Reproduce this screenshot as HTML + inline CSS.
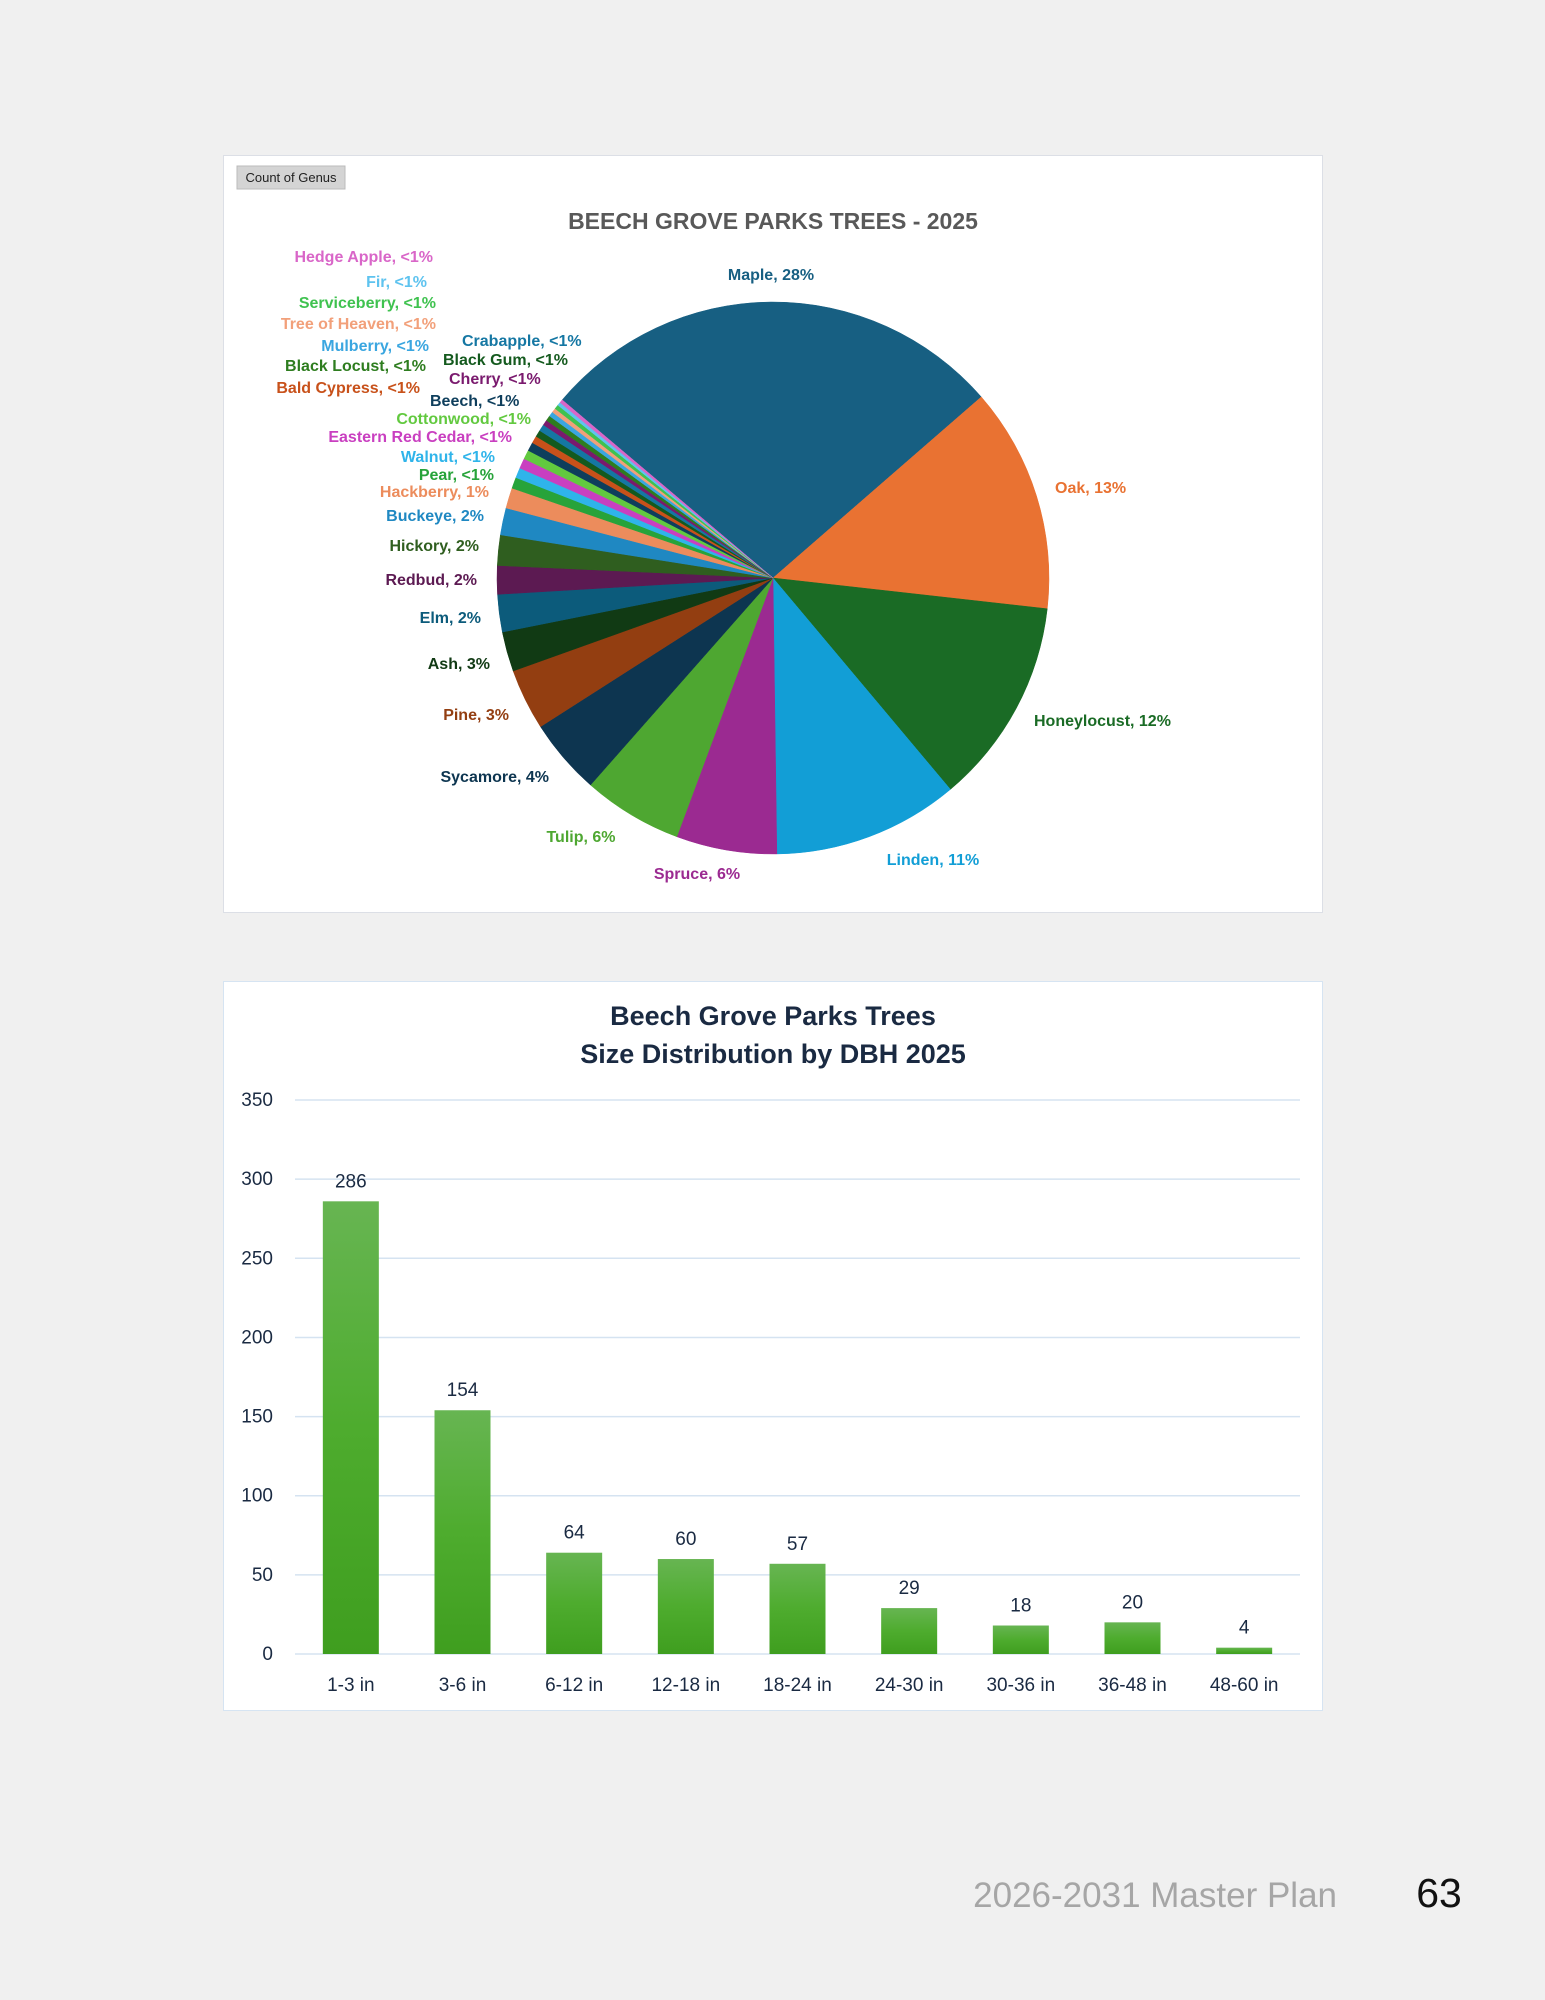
<!DOCTYPE html>
<html><head><meta charset="utf-8"><style>
html,body{margin:0;padding:0;background:#f0f0f0;width:1545px;height:2000px;overflow:hidden}
svg{display:block}
text{font-family:"Liberation Sans",sans-serif}
</style></head><body>
<svg id="s" width="1545" height="2000" viewBox="0 0 1545 2000">
<rect x="0" y="0" width="1545" height="2000" fill="#f0f0f0"/>
<rect x="223.5" y="155.5" width="1099" height="757" fill="#fff" stroke="#dcdfe6"/>
<rect x="237" y="166" width="108" height="23" fill="#d4d4d4" stroke="#bbb"/>
<text x="291" y="182" font-size="13" text-anchor="middle" fill="#222">Count of Genus</text>
<text x="773" y="229" font-size="23" font-weight="bold" text-anchor="middle" fill="#595959">BEECH GROVE PARKS TREES - 2025</text>
<g id="pie"></g>
<g font-size="16" font-weight="bold" dominant-baseline="middle">
<text x="433" y="258" text-anchor="end" fill="#d966c8">Hedge Apple,  &lt;1%</text>
<text x="427" y="283" text-anchor="end" fill="#5ec3ef">Fir,  &lt;1%</text>
<text x="436" y="304" text-anchor="end" fill="#3fc24f">Serviceberry,  &lt;1%</text>
<text x="436" y="325" text-anchor="end" fill="#f2a07a">Tree of Heaven,  &lt;1%</text>
<text x="429" y="347" text-anchor="end" fill="#3aa6e0">Mulberry,  &lt;1%</text>
<text x="426" y="367" text-anchor="end" fill="#2e7d1f">Black Locust,  &lt;1%</text>
<text x="420" y="389" text-anchor="end" fill="#c8511a">Bald Cypress,  &lt;1%</text>
<text x="462" y="342" text-anchor="start" fill="#1577a3">Crabapple,  &lt;1%</text>
<text x="443" y="361" text-anchor="start" fill="#145a1e">Black Gum,  &lt;1%</text>
<text x="449" y="380" text-anchor="start" fill="#7a1a6e">Cherry,  &lt;1%</text>
<text x="430" y="402" text-anchor="start" fill="#0e3e5c">Beech,  &lt;1%</text>
<text x="531" y="420" text-anchor="end" fill="#62c93f">Cottonwood,  &lt;1%</text>
<text x="512" y="438" text-anchor="end" fill="#c93fc0">Eastern Red Cedar,  &lt;1%</text>
<text x="495" y="458" text-anchor="end" fill="#2fb4ea">Walnut,  &lt;1%</text>
<text x="494" y="476" text-anchor="end" fill="#27a33a">Pear,  &lt;1%</text>
<text x="489" y="493" text-anchor="end" fill="#ec8c5c">Hackberry, 1%</text>
<text x="484" y="517" text-anchor="end" fill="#1f88c2">Buckeye, 2%</text>
<text x="479" y="547" text-anchor="end" fill="#2f5e1f">Hickory, 2%</text>
<text x="477" y="581" text-anchor="end" fill="#5c1a52">Redbud, 2%</text>
<text x="481" y="619" text-anchor="end" fill="#0c5b7b">Elm, 2%</text>
<text x="490" y="665" text-anchor="end" fill="#113a14">Ash, 3%</text>
<text x="509" y="716" text-anchor="end" fill="#933e11">Pine, 3%</text>
<text x="549" y="778" text-anchor="end" fill="#0d3550">Sycamore, 4%</text>
<text x="581" y="838" text-anchor="middle" fill="#4ea731">Tulip, 6%</text>
<text x="697" y="875" text-anchor="middle" fill="#9b2a91">Spruce, 6%</text>
<text x="933" y="861" text-anchor="middle" fill="#129ed6">Linden, 11%</text>
<text x="1034" y="722" text-anchor="start" fill="#1a6b25">Honeylocust, 12%</text>
<text x="1055" y="489" text-anchor="start" fill="#e97232">Oak, 13%</text>
<text x="771" y="276" text-anchor="middle" fill="#175f82">Maple, 28%</text>
</g>

<rect x="223.5" y="981.5" width="1099" height="729" fill="#fff" stroke="#d6e4f2"/>
<text x="773" y="1025" font-size="27" font-weight="bold" text-anchor="middle" fill="#1a2a42">Beech Grove Parks Trees</text>
<text x="773" y="1063" font-size="27" font-weight="bold" text-anchor="middle" fill="#1a2a42">Size Distribution by DBH 2025</text>
<defs><linearGradient id="g" x1="0" y1="0" x2="0" y2="1"><stop offset="0" stop-color="#67b552"/><stop offset="0.5" stop-color="#4eac2e"/><stop offset="1" stop-color="#3f9e1f"/></linearGradient></defs>
<g id="bars"></g>
<text x="1337" y="1907" font-size="35" text-anchor="end" fill="#a6a6a6">2026-2031 Master Plan</text>
<text x="1439" y="1907" font-size="41" text-anchor="middle" fill="#111">63</text>
</svg>
<script>
var NS="http://www.w3.org/2000/svg";
var cx=773,cy=578,r=276;
var sl=[[310.2,409,"#175f82"],[409,456.4,"#e97232"],[456.4,500,"#1a6b25"],[500,539.2,"#129ed6"],[539.2,560.4,"#9b2a91"],[560.4,581.4,"#4ea731"],[581.4,597.4,"#0d3550"],[597.4,610.3,"#933e11"],[610.3,618.7,"#113a14"],[618.7,626.6,"#0c5b7b"],[626.6,632.6,"#5c1a52"],[632.6,639,"#2f5e1f"],[639,644.7,"#1f88c2"],[644.7,649,"#ec8c5c"]];
var small=[["#27a33a",2.3],["#2fb4ea",2.1],["#c93fc0",2.1],["#62c93f",1.9],["#0e3e5c",1.8],["#c8511a",1.5],["#145a1e",1.4],["#1577a3",1.4],["#7a1a6e",1.1],["#2e7d1f",1.1],["#3aa6e0",1],["#f2a07a",0.9],["#3fc24f",0.9],["#5ec3ef",0.7],["#d966c8",0.7]];
var tot=0;small.forEach(function(s){tot+=s[1]});
var a=649,span=670.2-649;
small.forEach(function(s){var d=s[1]/tot*span;sl.push([a,a+d,s[0]]);a+=d;});
var pie=document.getElementById("pie");
function pt(d){var t=d*Math.PI/180;return [cx+r*Math.sin(t),cy-r*Math.cos(t)];}
sl.forEach(function(s){var p1=pt(s[0]),p2=pt(s[1]);var lg=(s[1]-s[0])>180?1:0;
var e=document.createElementNS(NS,"path");e.setAttribute("d","M"+cx+","+cy+"L"+p1[0]+","+p1[1]+"A"+r+","+r+" 0 "+lg+" 1 "+p2[0]+","+p2[1]+"Z");e.setAttribute("fill",s[2]);e.setAttribute("stroke",s[2]);e.setAttribute("stroke-width","0.5");pie.appendChild(e);});
var b=document.getElementById("bars");
function el(t,at,txt){var e=document.createElementNS(NS,t);for(var k in at)e.setAttribute(k,at[k]);if(txt!==undefined)e.textContent=txt;b.appendChild(e);return e;}
var y0=1654,pp=79.14/50;
for(var v=0;v<=350;v+=50){var y=y0-v*pp;el("line",{x1:295,x2:1300,y1:y,y2:y,stroke:"#d5e3f1","stroke-width":1.5});el("text",{x:273,y:y+6,"font-size":19,"text-anchor":"end",fill:"#1a2a42"},v);}
var vals=[286,154,64,60,57,29,18,20,4],cats=["1-3 in","3-6 in","6-12 in","12-18 in","18-24 in","24-30 in","30-36 in","36-48 in","48-60 in"];
var w=(1300-295)/9;
vals.forEach(function(v,i){var c=295+w*(i+0.5),h=v*pp;el("rect",{x:c-28,y:y0-h,width:56,height:h,fill:"url(#g)"});
el("text",{x:c,y:y0-h-14,"font-size":19,"text-anchor":"middle",fill:"#1a2a42"},v);
el("text",{x:c,y:1691,"font-size":19,"text-anchor":"middle",fill:"#1a2a42"},cats[i]);});
</script>
</body></html>
